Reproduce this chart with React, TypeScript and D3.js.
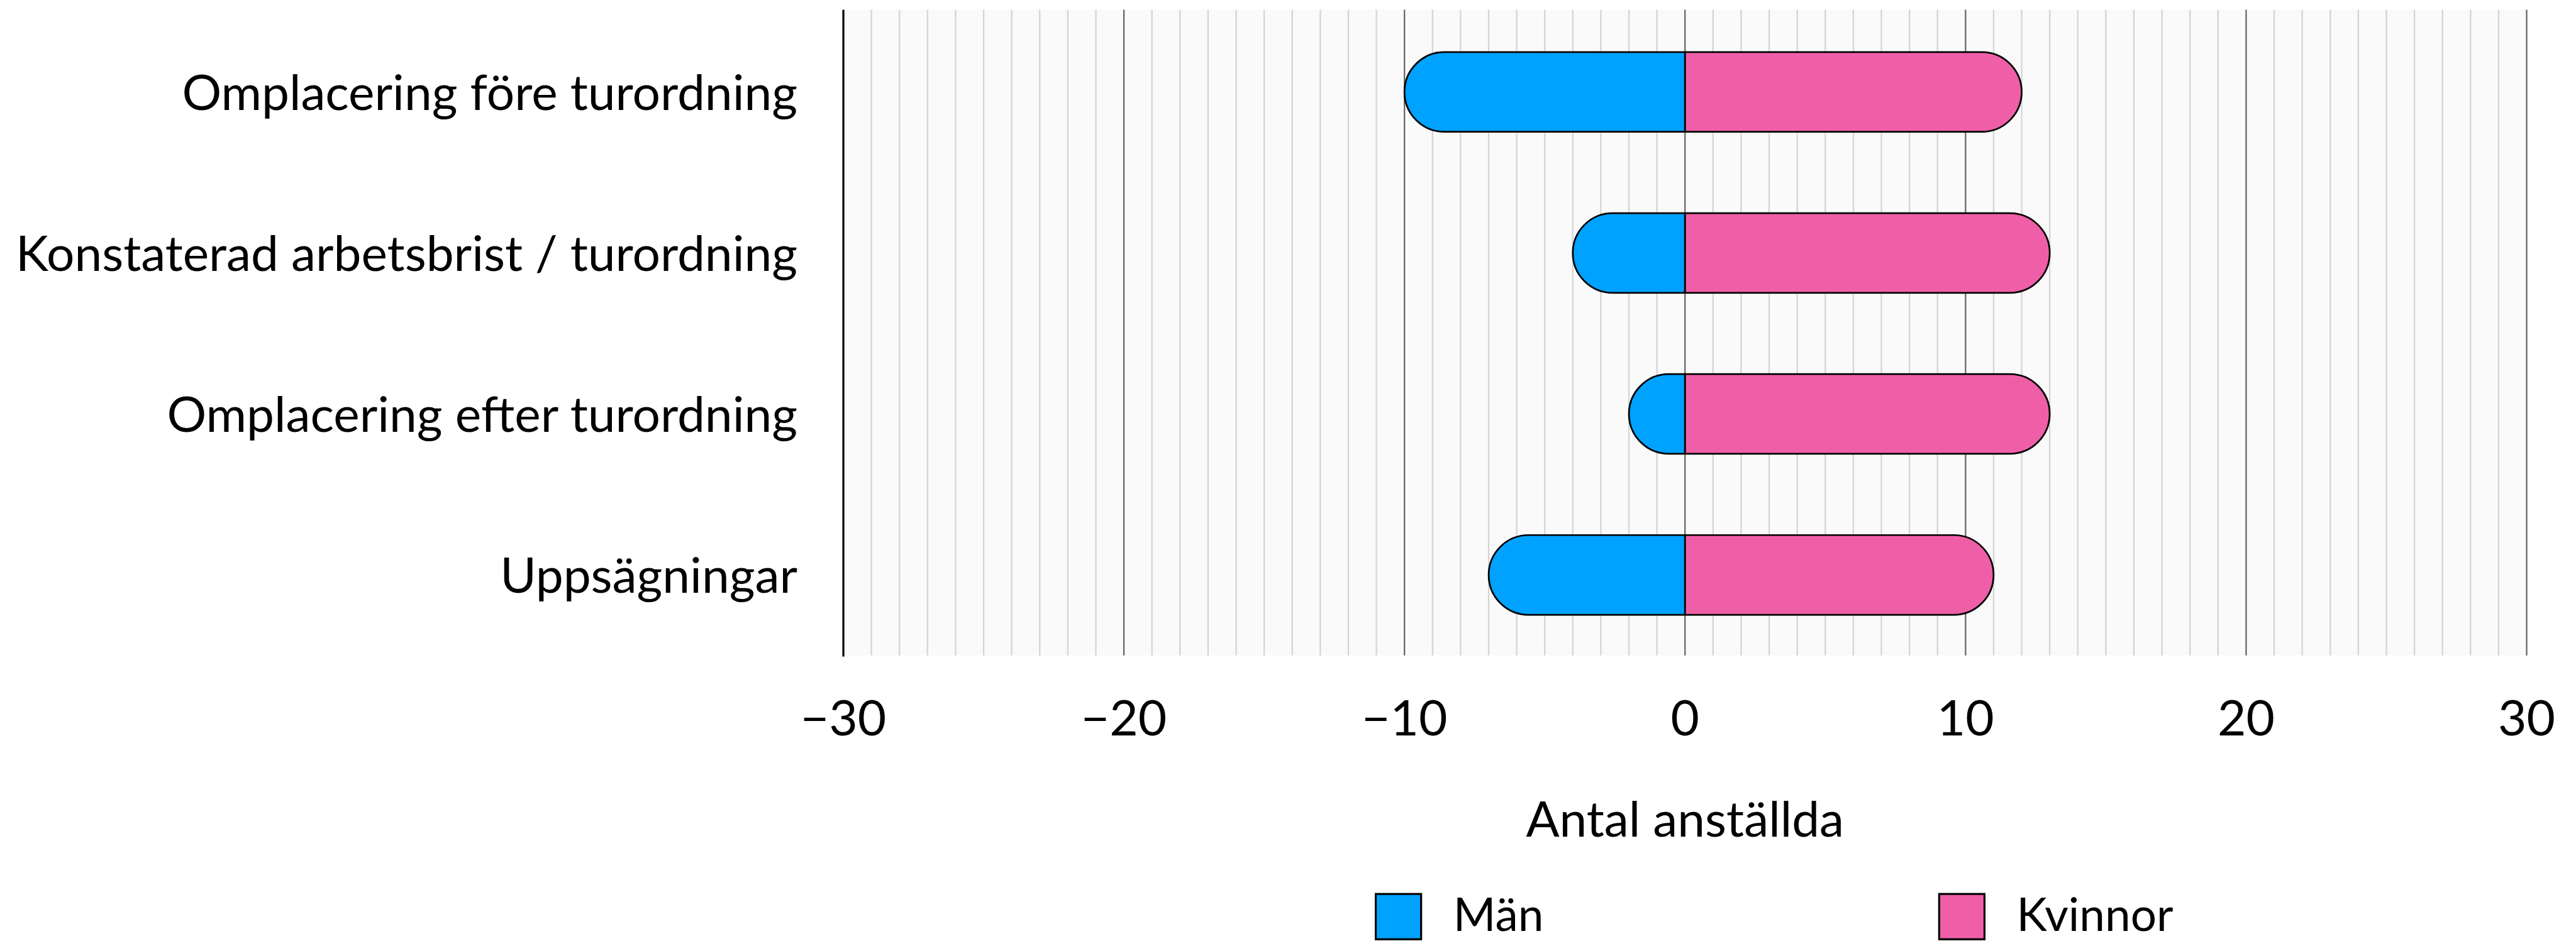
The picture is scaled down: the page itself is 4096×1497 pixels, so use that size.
import React from "react";
import * as d3 from "d3";

// Categories, top to bottom
const categories = [
  "Omplacering före turordning",
  "Konstaterad arbetsbrist / turordning",
  "Omplacering efter turordning",
  "Uppsägningar",
];

// Number of employees per category (men drawn to the left of zero)
const men = [10, 4, 2, 7];
const women = [12, 13, 13, 11];

const seriesNames = ["Män", "Kvinnor"];
const seriesColors = ["#00a2ff", "#ef5fa7"];

const xDomain: [number, number] = [-30, 30];
const majorTicks = [-30, -20, -10, 0, 10, 20, 30];
const axisTitle = "Antal anställda";

const W = 4490;
const H = 1641;
const FONT = "Lato, 'Noto Sans', sans-serif";

export default function App() {
  const plotLeft = 1470;
  const plotRight = 4404;
  const plotTop = 17;
  const plotBottom = 1143;

  const x = d3.scaleLinear().domain(xDomain).range([plotLeft, plotRight]);
  const y = d3
    .scaleBand<string>()
    .domain(categories)
    .range([20, plotBottom])
    .paddingInner(0.505)
    .paddingOuter(0.2525);

  const minorTicks = d3.range(xDomain[0], xDomain[1] + 1).filter((v) => v % 10 !== 0);
  const fmt = d3.format("d");
  const bw = y.bandwidth();

  // Bar with a square end at zero and a rounded outer end
  const pill = (from: number, to: number, y0: number, h: number) => {
    const r = Math.min(h / 2, Math.abs(to - from));
    const y1 = y0 + h;
    if (to < from) {
      return `M${from},${y0}L${to + r},${y0}A${r},${h / 2} 0 0 0 ${to + r},${y1}L${from},${y1}Z`;
    }
    return `M${from},${y0}L${to - r},${y0}A${r},${h / 2} 0 0 1 ${to - r},${y1}L${from},${y1}Z`;
  };

  return (
    <svg
      width={4096}
      height={1497}
      viewBox={`0 0 ${W} ${H}`}
      style={{ position: "absolute", left: 0, top: 0, background: "#ffffff" }}
    >
      <rect x={0} y={0} width={W} height={H} fill="#ffffff" />
      <rect
        x={plotLeft}
        y={plotTop}
        width={plotRight - plotLeft}
        height={plotBottom - plotTop}
        fill="#fafafa"
      />
      {minorTicks.map((t) => (
        <line
          key={`m${t}`}
          x1={x(t)}
          x2={x(t)}
          y1={plotTop}
          y2={plotBottom}
          stroke="#d4d4d4"
          strokeWidth={2.5}
        />
      ))}
      {majorTicks
        .filter((t) => t !== xDomain[0])
        .map((t) => (
          <line
            key={`M${t}`}
            x1={x(t)}
            x2={x(t)}
            y1={plotTop}
            y2={plotBottom}
            stroke="#666666"
            strokeWidth={2.5}
          />
        ))}
      <line
        x1={x(xDomain[0])}
        x2={x(xDomain[0])}
        y1={plotTop}
        y2={plotBottom + 2}
        stroke="#000000"
        strokeWidth={3.5}
      />

      {categories.map((c, i) => {
        const y0 = y(c) as number;
        return (
          <g key={c}>
            <path
              d={pill(x(0), x(-men[i]), y0, bw)}
              fill={seriesColors[0]}
              stroke="#000000"
              strokeWidth={3}
              strokeLinejoin="round"
            />
            <path
              d={pill(x(0), x(women[i]), y0, bw)}
              fill={seriesColors[1]}
              stroke="#000000"
              strokeWidth={3}
              strokeLinejoin="round"
            />
            <text
              x={1390}
              y={y0 + bw / 2 + 31}
              textAnchor="end"
              fontFamily={FONT}
              fontSize={86}
              fill="#000000"
            >
              {c}
            </text>
          </g>
        );
      })}

      {majorTicks.map((t) => (
        <text
          key={`t${t}`}
          x={x(t)}
          y={1283}
          textAnchor="middle"
          fontFamily={FONT}
          fontSize={86}
          fill="#000000"
        >
          {fmt(t)}
        </text>
      ))}

      <text
        x={(plotLeft + plotRight) / 2}
        y={1459}
        textAnchor="middle"
        fontFamily={FONT}
        fontSize={86}
        fill="#000000"
      >
        {axisTitle}
      </text>

      {seriesNames.map((s, i) => {
        const lx = [2398, 3380][i];
        return (
          <g key={s}>
            <rect
              x={lx}
              y={1559}
              width={79}
              height={79}
              fill={seriesColors[i]}
              stroke="#000000"
              strokeWidth={3.5}
            />
            <text x={lx + 135} y={1623} fontFamily={FONT} fontSize={80} fill="#000000">
              {s}
            </text>
          </g>
        );
      })}
    </svg>
  );
}
